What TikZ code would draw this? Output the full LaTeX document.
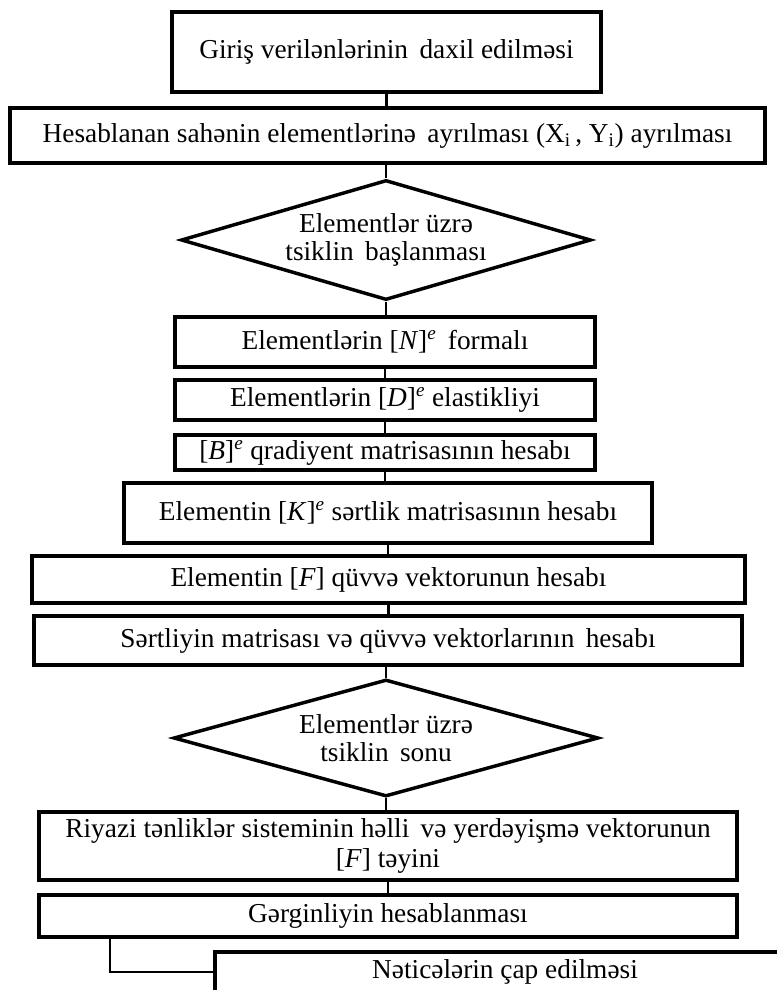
\documentclass[tikz,border=0pt]{standalone}
\usepackage{fontspec}
\setmainfont{Liberation Serif}
\usetikzlibrary{shapes.geometric}
\newdimen\px \px=0.75pt
\begin{document}
\begin{tikzpicture}[x=0.75pt,y=-0.75pt,
  box/.style={draw,line width=2.6pt,inner sep=0pt,align=center,font=\fontsize{20.5}{22}\selectfont},
  dec/.style={draw,diamond,shape aspect=3.4,line width=2.6pt,inner sep=0pt,align=center,font=\fontsize{20.5}{20.5}\selectfont},
  conn/.style={line width=2pt}]
\useasboundingbox (0,0) rectangle (777,990);
\fill[white] (0,0) rectangle (777,990);
\node[box,minimum width=429\px,minimum height=80\px] (b1) at (386.5,52) {Giriş verilənlərinin\, daxil edilməsi};
\node[box,minimum width=755\px,minimum height=55\px] (b2) at (387.5,135.5) {Hesablanan sahənin elementlərinə\, ayrılması (X\textsubscript{i}\,, Y\textsubscript{i}) ayrılması};
\node[dec,minimum width=410\px,minimum height=120\px] (d1) at (386,240) {Elementlər üzrə\\tsiklin\, başlanması};
\node[box,minimum width=420\px,minimum height=50\px] (b3) at (385,342) {Elementlərin [\textit{N}]\textsuperscript{\textit{e}}\, formalı};
\node[box,minimum width=420\px,minimum height=40\px] (b4) at (385,400) {Elementlərin [\textit{D}]\textsuperscript{\textit{e}} elastikliyi};
\node[box,minimum width=420\px,minimum height=35\px] (b5) at (385,452.5) {[\textit{B}]\textsuperscript{\textit{e}} qradiyent matrisasının hesabı};
\node[box,minimum width=528\px,minimum height=60\px] (b6) at (388,513) {Elementin [\textit{K}]\textsuperscript{\textit{e}} sərtlik matrisasının hesabı};
\node[box,minimum width=713\px,minimum height=47\px] (b7) at (388.5,579.5) {Elementin [\textit{F}] qüvvə vektorunun hesabı};
\node[box,minimum width=708\px,minimum height=49\px] (b8) at (388,640.5) {Sərtliyin matrisası və qüvvə vektorlarının\, hesabı};
\node[dec,minimum width=425\px,minimum height=117\px] (d2) at (386,738) {Elementlər üzrə\\tsiklin\, sonu};
\node[box,minimum width=698\px,minimum height=68\px] (b9) at (388,846) {Riyazi tənliklər sisteminin həlli\, və yerdəyişmə vektorunun\\{}[\textit{F}] təyini};
\node[box,minimum width=698\px,minimum height=42\px] (b10) at (388,916) {Gərginliyin hesablanması};
\node[box,minimum width=580\px,minimum height=40\px] (b11) at (505,972) {Nəticələrin çap edilməsi};
\coordinate (k) at (110,0);
\draw[conn] (b1.south) -- (b1.south |- b2.north);
\draw[conn] (d1.north |- b2.south) -- (d1.north);
\draw[conn] (d1.south) -- (d1.south |- b3.north);
\draw[conn] (b3.south) -- (b3.south |- b4.north);
\draw[conn] (b4.south) -- (b4.south |- b5.north);
\draw[conn] (b5.south) -- (b5.south |- b6.north);
\draw[conn] (b6.south) -- (b6.south |- b7.north);
\draw[conn] (b7.south) -- (b7.south |- b8.north);
\draw[conn] (d2.north |- b8.south) -- (d2.north);
\draw[conn] (d2.south) -- (d2.south |- b9.north);
\draw[conn] (b9.south) -- (b9.south |- b10.north);
\draw[conn] (k |- b10.south) |- (b11.west);
\end{tikzpicture}
\end{document}
